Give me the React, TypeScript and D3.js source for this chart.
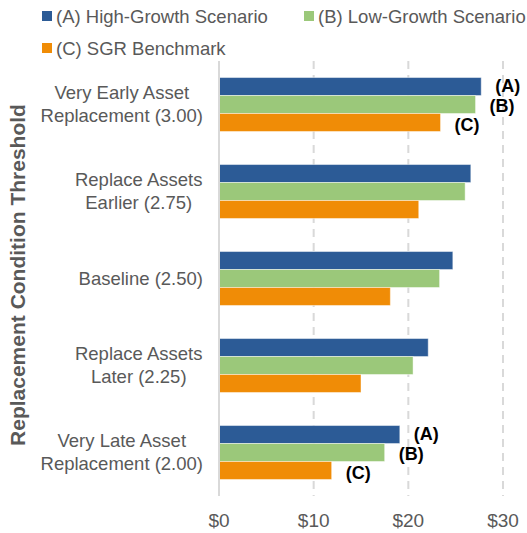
import React from "react";
import * as d3 from "d3";

// categories, top to bottom
const categories = [
  ["Very Early Asset", "Replacement (3.00)"],
  ["Replace Assets", "Earlier (2.75)"],
  ["Baseline (2.50)"],
  ["Replace Assets", "Later (2.25)"],
  ["Very Late Asset", "Replacement (2.00)"],
];

const seriesNames = [
  "(A) High-Growth Scenario",
  "(B) Low-Growth Scenario",
  "(C) SGR Benchmark",
];
const seriesTags = ["(A)", "(B)", "(C)"];
const colors = ["#2C5B96", "#9BC87A", "#F08C06"];

const highGrowth = [27.7, 26.6, 24.7, 22.1, 19.1];
const lowGrowth = [27.1, 26.0, 23.3, 20.5, 17.5];
const sgrBenchmark = [23.4, 21.1, 18.1, 15.0, 11.9];

const xTicks = [0, 10, 20, 30];

// which bars get the (A)/(B)/(C) tags
const taggedCategories = [0, 4];

const W = 527;
const H = 533;
const FONT = "'Liberation Sans', Arial, sans-serif";
const GREY = "#595959";

let ctx: CanvasRenderingContext2D | null = null;
const textWidth = (s: string, size: number) => {
  if (!ctx) ctx = document.createElement("canvas").getContext("2d");
  if (!ctx) return s.length * size * 0.5;
  ctx.font = `${size}px ${FONT}`;
  return ctx.measureText(s).width;
};

export default function App() {
  const values = [highGrowth, lowGrowth, sgrBenchmark];

  const x = d3.scaleLinear().domain([0, 30]).range([219, 503]);
  const y = d3
    .scaleBand<number>()
    .domain(d3.range(categories.length))
    .range([61, 496])
    .paddingInner(0.38)
    .paddingOuter(0.19);
  const ySub = d3
    .scaleBand<number>()
    .domain(d3.range(seriesNames.length))
    .range([0, y.bandwidth()]);

  const labelRight = 203;
  const catSize = 18.5;
  const tagShift = [5, 7, 8.5];

  return (
    <svg
      width={W}
      height={H}
      style={{ position: "absolute", left: 0, top: 0, background: "#fff" }}
      fontFamily={FONT}
    >
      {/* legend */}
      {seriesNames.map((name, i) => {
        const lx = i === 1 ? 304 : 42;
        const ly = i === 2 ? 55 : 23;
        return (
          <g key={name}>
            <rect x={lx} y={ly - 12} width={10} height={10} fill={colors[i]} />
            <text x={lx + 14} y={ly} fontSize={18.5} fill={GREY}>
              {name}
            </text>
          </g>
        );
      })}

      {/* gridlines */}
      {xTicks.slice(1).map((t) => (
        <line
          key={t}
          x1={x(t)}
          x2={x(t)}
          y1={61}
          y2={496}
          stroke="#D9D9D9"
          strokeWidth={2}
          strokeDasharray="8,6"
        />
      ))}

      {/* bars */}
      {categories.map((_, ci) =>
        values.map((vals, si) => (
          <rect
            key={`${ci}-${si}`}
            x={x(0)}
            y={(y(ci) ?? 0) + (ySub(si) ?? 0)}
            width={x(vals[ci]) - x(0)}
            height={ySub.bandwidth()}
            fill={colors[si]}
            stroke="rgba(255,255,255,0.45)"
            strokeWidth={1}
          />
        ))
      )}

      {/* vertical axis line */}
      <line x1={x(0)} x2={x(0)} y1={61} y2={496} stroke="#D9D9D9" strokeWidth={2} />

      {/* bar tags */}
      {taggedCategories.map((ci) =>
        values.map((vals, si) => (
          <text
            key={`tag-${ci}-${si}`}
            x={x(vals[ci]) + 14}
            y={(y(ci) ?? 0) + (ySub(si) ?? 0) + ySub.bandwidth() / 2 + tagShift[si]}
            fontSize={18}
            fontWeight="bold"
            fill="#000"
          >
            {seriesTags[si]}
          </text>
        ))
      )}

      {/* category labels */}
      {categories.map((lines, ci) => {
        const cy = (y(ci) ?? 0) + y.bandwidth() / 2;
        const maxW = Math.max(...lines.map((l) => textWidth(l, catSize)));
        const cx = labelRight - maxW / 2;
        const top = cy - (lines.length * 23.4) / 2;
        return (
          <text key={ci} fontSize={catSize} fill={GREY} textAnchor="middle">
            {lines.map((l, li) => (
              <tspan key={li} x={cx} y={top + 17.9 + li * 23.4}>
                {l}
              </tspan>
            ))}
          </text>
        );
      })}

      {/* x tick labels */}
      {xTicks.map((t) => (
        <text
          key={t}
          x={x(t)}
          y={527}
          fontSize={19}
          fill={GREY}
          textAnchor="middle"
        >
          {d3.format("$,")(t)}
        </text>
      ))}

      {/* y axis title */}
      <text
        transform="translate(25,275) rotate(-90)"
        fontSize={21}
        fontWeight="bold"
        fill={GREY}
        textAnchor="middle"
      >
        Replacement Condition Threshold
      </text>
    </svg>
  );
}
